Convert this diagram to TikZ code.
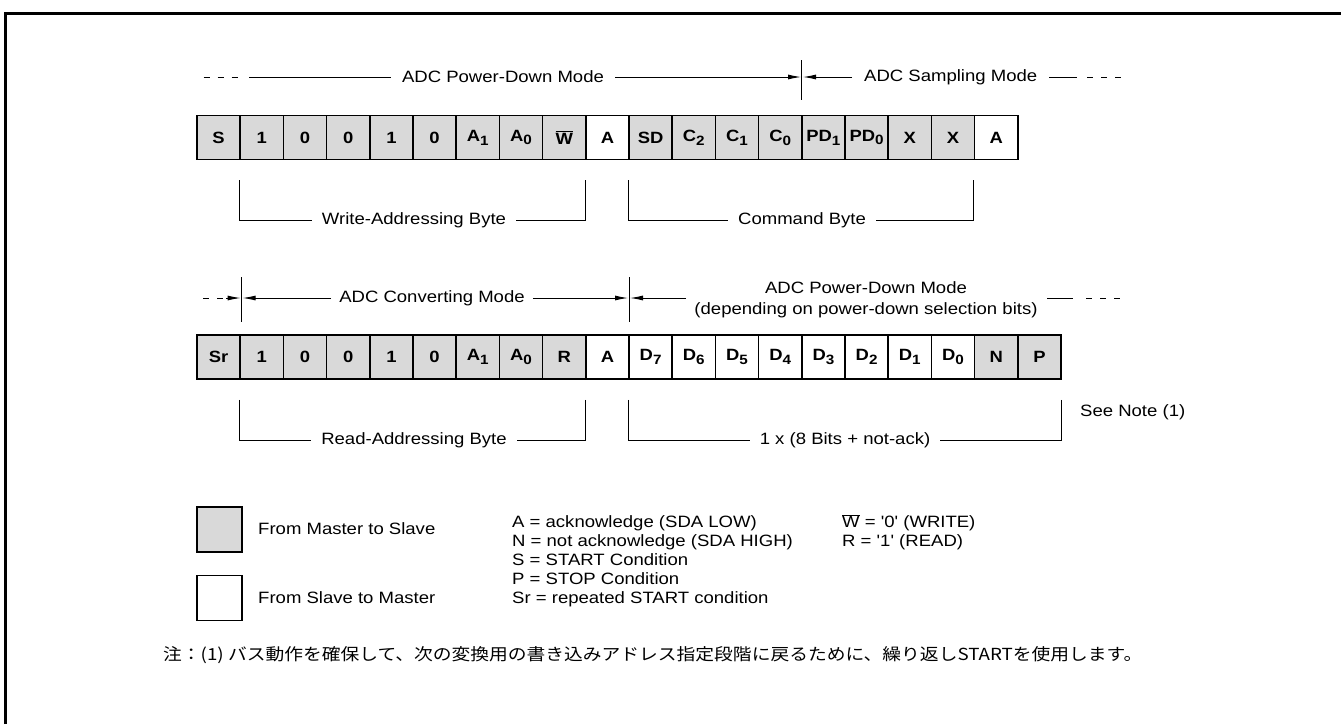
\documentclass[tikz,border=0pt]{standalone}
\usepackage{graphicx}
\usepackage{fontspec}
\setmainfont{Liberation Sans}
\newfontfamily\jpfont{Noto Sans CJK JP}
\usetikzlibrary{arrows.meta,calc}
\definecolor{cellgray}{RGB}{217,217,217}
\newcommand{\sx}[1]{\scalebox{1.13}[1]{#1}}
\newcommand{\bsub}[1]{\raisebox{-0.45ex}{\fontsize{13.5}{13.5}\selectfont #1}}
\newcommand{\wbar}{$\overline{\mbox{W}}$}
\begin{document}
\begin{tikzpicture}[x=1pt,y=-1pt,
  cell/.style={draw, line width=1.7pt, minimum width=43.2pt, minimum height=44pt, inner sep=0pt,
    font=\bfseries\fontsize{16.3}{16.3}\selectfont, fill=cellgray},
  lbl/.style={font=\fontsize{16.4}{19}\selectfont, inner sep=0pt},
  thin/.style={line width=0.9pt},
  arr/.style={-{Latex[length=13pt,width=5pt]}, line width=0.9pt},
  dash3/.style={line width=0.9pt, dash pattern=on 6pt off 8pt}]
\useasboundingbox (0,0) rectangle (1341,724);
\draw[line width=3pt] (5.5,724) -- (5.5,13.5) -- (1341,13.5);

% top row
\foreach \lab/\col [count=\i from 0] in {S/cellgray,1/cellgray,0/cellgray,0/cellgray,1/cellgray,0/cellgray,
  A\bsub{1}/cellgray,A\bsub{0}/cellgray,\wbar/cellgray,A/white,SD/cellgray,C\bsub{2}/cellgray,
  C\bsub{1}/cellgray,C\bsub{0}/cellgray,PD\bsub{1}/cellgray,PD\bsub{0}/cellgray,X/cellgray,X/cellgray,A/white}
  \node[cell, fill=\col] (t\i) at ({218.6+43.2*\i},137.5) {\sx{\lab}};

% bottom row
\foreach \lab/\col [count=\i from 0] in {Sr/cellgray,1/cellgray,0/cellgray,0/cellgray,1/cellgray,0/cellgray,
  A\bsub{1}/cellgray,A\bsub{0}/cellgray,R/cellgray,A/white,D\bsub{7}/white,D\bsub{6}/white,
  D\bsub{5}/white,D\bsub{4}/white,D\bsub{3}/white,D\bsub{2}/white,D\bsub{1}/white,D\bsub{0}/white,N/cellgray,P/cellgray}
  \node[cell, fill=\col] (b\i) at ({218.6+43.2*\i},357) {\sx{\lab}};

% top mode line
\draw[dash3] (203.5,77) -- (238,77);
\node[lbl, inner xsep=11pt] (pdm) at (503,77) {\sx{ADC Power-Down Mode}};
\coordinate (tl0) at (249,77);
\draw[thin] (tl0) -- (pdm.west);
\coordinate (vt1) at (801.8,60);
\coordinate (vt2) at (801.8,100);
\draw[thin] (vt1) -- (vt2);
\coordinate (at1) at (801,77);
\coordinate (at2) at (803,77);
\draw[arr] (pdm.east) -- (at1);
\node[lbl, anchor=west, inner xsep=12pt] (sam) at (852,77) {\sx{ADC Sampling Mode}};
\draw[arr] (sam.west) -- (at2);
\coordinate (sl1) at ($(sam.east)+(28,0)$);
\draw[thin] (sam.east) -- (sl1);
\draw[dash3] ($(sl1)+(10,0)$) -- ++(40,0);

% top brackets
\node[lbl, inner xsep=10pt] (wab) at (414,220) {\sx{Write-Addressing Byte}};
\draw[thin] ($(t1.south west)+(0,20)$) |- (wab.west);
\draw[thin] ($(t9.south west)+(0,20)$) |- (wab.east);
\node[lbl, inner xsep=10pt] (cmb) at (802,220) {\sx{Command Byte}};
\draw[thin] ($(t10.south west)+(0,20)$) |- (cmb.west);
\draw[thin] ($(t18.south west)+(0,20)$) |- (cmb.east);

% bottom mode line
\draw[dash3] (203,298) -- (223,298);
\coordinate (bl0) at (226,298);
\coordinate (bv1a) at (241.6,277);
\coordinate (bv1b) at (241.6,322);
\draw[thin] (bv1a) -- (bv1b);
\coordinate (ba1) at (240.6,298);
\coordinate (ba2) at (242.6,298);
\draw[arr] (bl0) -- (ba1);
\node[lbl, inner xsep=8pt] (cvm) at (432,298) {\sx{ADC Converting Mode}};
\draw[arr] (cvm.west) -- (ba2);
\coordinate (bv2a) at (629,277);
\coordinate (bv2b) at (629,322);
\draw[thin] (bv2a) -- (bv2b);
\coordinate (ba3) at (628,298);
\coordinate (ba4) at (630,298);
\coordinate (ba5) at (686,298);
\draw[arr] (cvm.east) -- (ba3);
\draw[arr] (ba5) -- (ba4);
\node[lbl] (pdm2) at (866,300)
  {\sx{\begin{tabular}{@{}c@{}}ADC Power-Down Mode\\[2pt](depending on power-down selection bits)\end{tabular}}};
\coordinate (bl1) at (1047,298);
\coordinate (bl2) at (1073,298);
\draw[thin] (bl1) -- (bl2);
\draw[dash3] (1086,298) -- (1125,298);

% bottom brackets
\node[lbl, inner xsep=10pt] (rab) at (414,440) {\sx{Read-Addressing Byte}};
\draw[thin] ($(b1.south west)+(0,20)$) |- (rab.west);
\draw[thin] ($(b9.south west)+(0,20)$) |- (rab.east);
\node[lbl, inner xsep=10pt] (nab) at (845,440) {\sx{1 x (8 Bits + not-ack)}};
\draw[thin] ($(b10.south west)+(0,20)$) |- (nab.west);
\draw[thin] ($(b19.south east)+(0,20)$) |- (nab.east);
\node[lbl, anchor=west] (note) at (1080,412) {\sx{See Note (1)}};

% legend
\node[cell, minimum width=45pt, minimum height=45pt] (lg1) at (219.5,529.5) {};
\node[lbl, anchor=west] (lgt1) at (258,529) {\sx{From Master to Slave}};
\node[cell, fill=white, minimum width=45pt, minimum height=45pt] (lg2) at (219.5,598) {};
\node[lbl, anchor=west] (lgt2) at (258,598) {\sx{From Slave to Master}};
\node[lbl, anchor=north west] (defs) at (512,514)
  {\sx{\begin{tabular}{@{}l@{}}A = acknowledge (SDA LOW)\\N = not acknowledge (SDA HIGH)\\S = START Condition\\P = STOP Condition\\Sr = repeated START condition\end{tabular}}};
\node[lbl, anchor=north west] (rw) at (842,514)
  {\sx{\begin{tabular}{@{}l@{}}\wbar{} = \textquotesingle 0\textquotesingle{} (WRITE)\\R = \textquotesingle 1\textquotesingle{} (READ)\end{tabular}}};

% note
\node[anchor=west, inner sep=0pt, font=\jpfont\fontsize{16.6}{16.6}\selectfont] (jn) at (163,655)
  {\sx{注：(1) バス動作を確保して、次の変換用の書き込みアドレス指定段階に戻るために、繰り返しSTARTを使用します。}};
\end{tikzpicture}
\end{document}
